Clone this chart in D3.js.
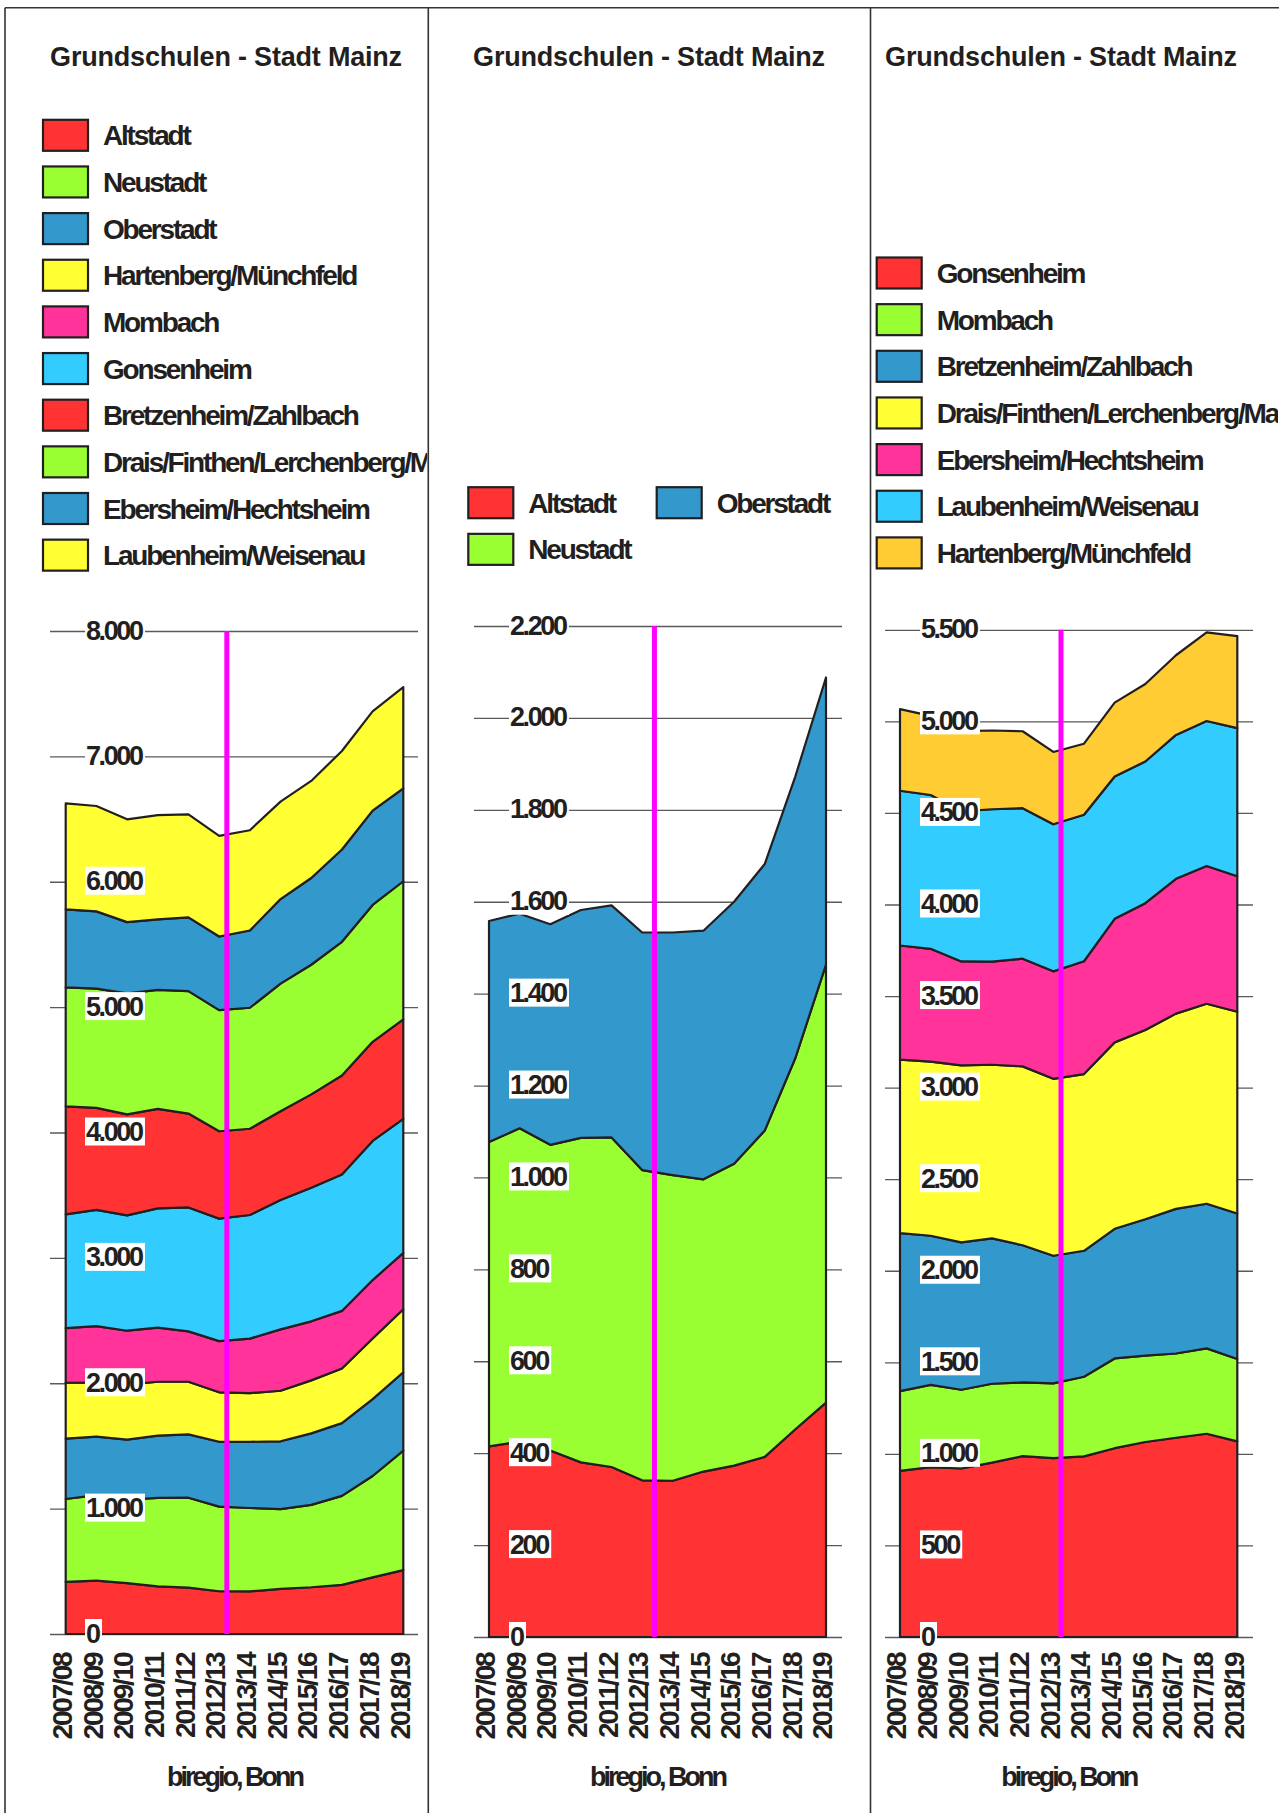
<!DOCTYPE html>
<html>
<head>
<meta charset="utf-8">
<script src="https://cdn.jsdelivr.net/npm/d3@7"></script>
<style>
body { margin: 0; background: #fff; }
svg { display: block; font-family: "Liberation Sans", Arial, sans-serif; font-weight: bold; }
</style>
</head>
<body>
<svg id="chart" width="1279" height="1813"></svg>
<script>
// school years
var years = ['2007/08', '2008/09', '2009/10', '2010/11', '2011/12', '2012/13',
    '2013/14', '2014/15', '2015/16', '2016/17', '2017/18', '2018/19'];

// pupils per district
var altstadt    = [415, 425, 406, 380, 370, 341, 340, 360, 373, 392, 452, 510];
var neustadt    = [662, 682, 665, 706, 717, 675, 665, 636, 657, 710, 808, 953];
var oberstadt   = [481, 467, 480, 496, 505, 517, 528, 541, 570, 580, 613, 625];
var hartenberg  = [446, 432, 438, 430, 420, 395, 388, 403, 423, 435, 484, 502];
var mombach     = [436, 449, 430, 431, 402, 408, 435, 490, 471, 460, 466, 450];
var gonsenheim  = [907, 928, 920, 952, 988, 977, 986, 1031, 1065, 1088, 1110, 1068];
var bretzenheim = [862, 814, 805, 794, 749, 697, 688, 708, 745, 790, 790, 795];
var drais       = [948, 951, 966, 948, 977, 966, 965, 1018, 1034, 1066, 1092, 1101];
var ebersheim   = [623, 616, 568, 563, 588, 587, 616, 675, 692, 736, 752, 740];
var laubenheim  = [845, 840, 820, 832, 822, 803, 800, 777, 774, 786, 792, 809];

var title = 'Grundschulen - Stadt Mainz';
var source = 'biregio, Bonn';

var RED = '#ff3333', GREEN = '#99ff33', BLUE = '#3399cc', YELLOW = '#ffff33',
    PINK = '#ff3399', CYAN = '#33ccff', ORANGE = '#ffcc33';
var INK = '#231f20';

var fmt = d3.formatLocale({decimal: ',', thousands: '.', grouping: [3], currency: ['', ' €']}).format(',');

var panels = [
    {
        series: [
            {name: 'Altstadt', values: altstadt, color: RED},
            {name: 'Neustadt', values: neustadt, color: GREEN},
            {name: 'Oberstadt', values: oberstadt, color: BLUE},
            {name: 'Hartenberg/Münchfeld', values: hartenberg, color: YELLOW},
            {name: 'Mombach', values: mombach, color: PINK},
            {name: 'Gonsenheim', values: gonsenheim, color: CYAN},
            {name: 'Bretzenheim/Zahlbach', values: bretzenheim, color: RED},
            {name: 'Drais/Finthen/Lerchenberg/Marienborn', values: drais, color: GREEN},
            {name: 'Ebersheim/Hechtsheim', values: ebersheim, color: BLUE},
            {name: 'Laubenheim/Weisenau', values: laubenheim, color: YELLOW}
        ],
        legendOrder: null, legendCols: 1,
        max: 8000, step: 1000,
        clip: [5, 428.3],
        plotX: [65.7, 403.3], plotY: [1634, 631], gridX: [50, 418],
        titleX: 226, legendX: 43, legendY: 135.3, marker: 0.25
    },
    {
        series: [
            {name: 'Altstadt', values: altstadt, color: RED},
            {name: 'Neustadt', values: neustadt, color: GREEN},
            {name: 'Oberstadt', values: oberstadt, color: BLUE}
        ],
        legendOrder: [0, 2, 1], legendCols: 2,
        max: 2200, step: 200,
        clip: [428.3, 870.5],
        plotX: [489, 826], plotY: [1637, 626], gridX: [474, 842],
        titleX: 649, legendX: 468.3, legendY: 502.7, marker: 0.4
    },
    {
        series: [
            {name: 'Gonsenheim', values: gonsenheim, color: RED},
            {name: 'Mombach', values: mombach, color: GREEN},
            {name: 'Bretzenheim/Zahlbach', values: bretzenheim, color: BLUE},
            {name: 'Drais/Finthen/Lerchenberg/Marienborn', values: drais, color: YELLOW},
            {name: 'Ebersheim/Hechtsheim', values: ebersheim, color: PINK},
            {name: 'Laubenheim/Weisenau', values: laubenheim, color: CYAN},
            {name: 'Hartenberg/Münchfeld', values: hartenberg, color: ORANGE}
        ],
        legendOrder: null, legendCols: 1,
        max: 5500, step: 500,
        clip: [870.5, 1279],
        plotX: [900, 1237.3], plotY: [1637, 629.8], gridX: [885, 1253],
        titleX: 1061, legendX: 876.7, legendY: 273, marker: 0.25
    }
];

var svg = d3.select('#chart');
var defs = svg.append('defs');

// frame
svg.append('line')
    .attr('x1', 5).attr('x2', 1279).attr('y1', 7.7).attr('y2', 7.7)
    .attr('stroke', '#333').attr('stroke-width', 1.6);
panels.forEach(function(p) {
    svg.append('line')
        .attr('x1', p.clip[0]).attr('x2', p.clip[0]).attr('y1', 7.7).attr('y2', 1813)
        .attr('stroke', '#333').attr('stroke-width', 1.6);
});

panels.forEach(function(p, pi) {
    var g = svg.append('g');

    defs.append('clipPath').attr('id', 'clip' + pi)
        .append('rect')
        .attr('x', p.clip[0]).attr('y', 0)
        .attr('width', p.clip[1] - p.clip[0] - 1).attr('height', 1813);

    var x = d3.scalePoint().domain(years).range(p.plotX);
    var y = d3.scaleLinear().domain([0, p.max]).range(p.plotY);
    var ticks = d3.range(0, p.max + 1, p.step);

    var table = years.map(function(yr, i) {
        var row = {year: yr};
        p.series.forEach(function(s) {
            row[s.name] = s.values[i];
        });
        return row;
    });
    var stacked = d3.stack().keys(p.series.map(function(s) { return s.name; }))(table);

    // title
    g.append('text')
        .attr('x', p.titleX).attr('y', 65.5)
        .attr('text-anchor', 'middle')
        .attr('font-size', 27)
        .style('letter-spacing', '-0.2px')
        .attr('fill', INK)
        .text(title);

    // legend
    var order = p.legendOrder || p.series.map(function(s, i) { return i; });
    var leg = g.append('g').attr('clip-path', 'url(#clip' + pi + ')');
    order.forEach(function(si, k) {
        var s = p.series[si];
        var col = k % p.legendCols;
        var row = Math.floor(k / p.legendCols);
        var lx = p.legendX + col * 188.4;
        var ly = p.legendY + row * 46.65;
        leg.append('rect')
            .attr('x', lx).attr('y', ly - 15.5)
            .attr('width', 45).attr('height', 31)
            .attr('fill', s.color)
            .attr('stroke', INK).attr('stroke-width', 2.2);
        leg.append('text')
            .attr('x', lx + 60).attr('y', ly + 10)
            .attr('font-size', 28)
            .style('letter-spacing', '-2.2px')
            .attr('fill', INK)
            .text(s.name);
    });

    // gridlines
    var grid = g.append('g')
        .attr('transform', 'translate(' + p.gridX[0] + ',0)')
        .call(d3.axisLeft(y)
            .tickValues(ticks)
            .tickSize(-(p.gridX[1] - p.gridX[0]))
            .tickFormat(''));
    grid.select('.domain').remove();
    grid.selectAll('.tick line')
        .attr('stroke', '#5a5a5a')
        .attr('stroke-width', 1.3);

    // stacked areas
    var area = d3.area()
        .x(function(d) { return x(d.data.year); })
        .y0(function(d) { return y(d[0]); })
        .y1(function(d) { return y(d[1]); });

    g.append('g')
        .selectAll('path')
        .data(stacked)
        .join('path')
        .attr('d', area)
        .attr('fill', function(d, i) { return p.series[i].color; })
        .attr('stroke', INK)
        .attr('stroke-width', 2.2)
        .attr('stroke-linejoin', 'round');

    // marker line
    var mx = x(years[5]) + p.marker * x.step();
    g.append('line')
        .attr('x1', mx).attr('x2', mx)
        .attr('y1', y(p.max)).attr('y2', y(0))
        .attr('stroke', '#ff00ff')
        .attr('stroke-width', 5);

    // value labels with white boxes
    var labels = g.append('g')
        .attr('transform', 'translate(' + (p.gridX[0] + 36) + ',0)')
        .call(d3.axisLeft(y)
            .tickValues(ticks)
            .tickSize(0)
            .tickFormat(fmt));
    labels.attr('font-family', null).attr('font-size', null);
    labels.select('.domain').remove();
    labels.selectAll('.tick text')
        .attr('x', 0).attr('y', 8).attr('dy', null)
        .attr('text-anchor', 'start')
        .attr('font-size', 27)
        .style('letter-spacing', '-2.4px')
        .attr('fill', INK);
    labels.selectAll('.tick').each(function() {
        var t = d3.select(this).select('text');
        var bb = t.node().getBBox();
        d3.select(this).insert('rect', 'text')
            .attr('x', bb.x - 1).attr('y', bb.y + 0.5)
            .attr('width', bb.width + 3).attr('height', bb.height - 2)
            .attr('fill', '#fff');
    });

    // school year labels
    g.append('g')
        .selectAll('text')
        .data(years)
        .join('text')
        .attr('transform', function(d) {
            return 'translate(' + (x(d) + 6.2) + ',1653.6) rotate(-90)';
        })
        .attr('text-anchor', 'end')
        .attr('font-size', 28)
        .style('letter-spacing', '-2.2px')
        .attr('fill', INK)
        .text(function(d) { return d; });

    // source
    g.append('text')
        .attr('x', (p.plotX[0] + p.plotX[1]) / 2).attr('y', 1786)
        .attr('text-anchor', 'middle')
        .attr('font-size', 27)
        .style('letter-spacing', '-3px')
        .attr('fill', INK)
        .text(source);
});
</script>
</body>
</html>
